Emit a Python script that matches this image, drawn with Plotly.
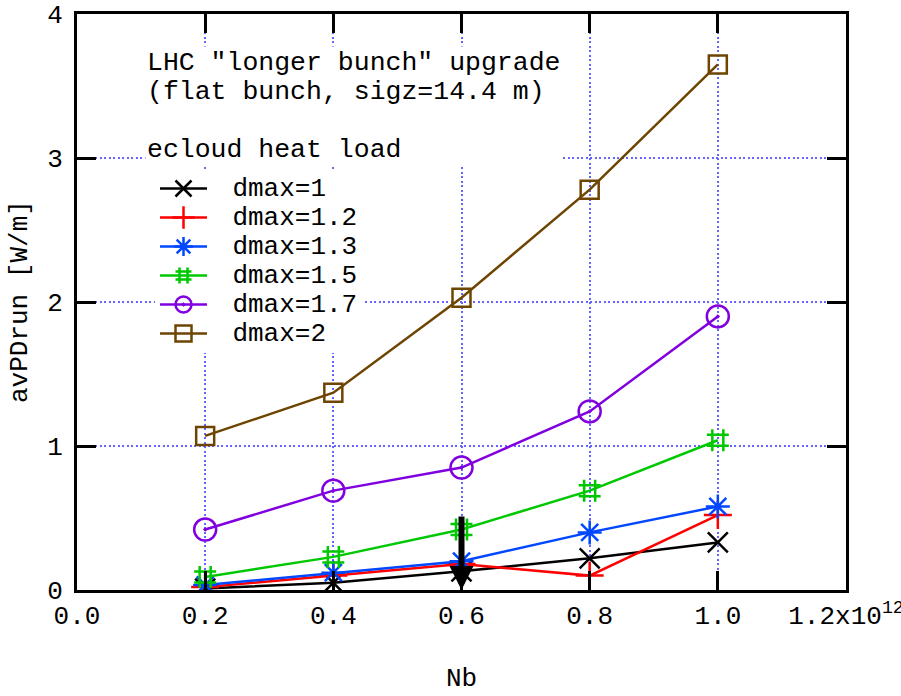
import plotly.graph_objects as go

# ---- data ----
nb = [0.2e12, 0.4e12, 0.6e12, 0.8e12, 1.0e12]
series_names = ["dmax=1", "dmax=1.2", "dmax=1.3", "dmax=1.5", "dmax=1.7", "dmax=2"]
d1_0 = [0.01, 0.05, 0.13, 0.22, 0.33]
d1_2 = [0.02, 0.10, 0.18, 0.10, 0.52]
d1_3 = [0.035, 0.12, 0.20, 0.40, 0.58]
d1_5 = [0.09, 0.23, 0.42, 0.69, 1.04]
d1_7 = [0.42, 0.69, 0.85, 1.24, 1.90]
d2_0 = [1.07, 1.37, 2.03, 2.78, 3.65]
series_values = [d1_0, d1_2, d1_3, d1_5, d1_7, d2_0]

x_tickvals = [0, 0.2e12, 0.4e12, 0.6e12, 0.8e12, 1.0e12, 1.2e12]
x_ticktext = ["0.0", "0.2", "0.4", "0.6", "0.8", "1.0", "1.2x10<sup>12</sup>"]
y_tickvals = [0, 1, 2, 3, 4]
y_ticktext = ["0", "1", "2", "3", "4"]

arrow_x = 0.6e12
arrow_y_from = 0.52
arrow_y_to = 0.0

# ---- style ----
colors = ["#000000", "#ff0000", "#0047ff", "#00c800", "#8000e0", "#6e4500"]
symbols = ["x-thin-open", "cross-thin-open", "asterisk-open", "hash-open",
           "circle-open-dot", "square-open"]
sizes = [20, 20, 20, 22, 22, 18]
FONT = "Liberation Mono"
GRID = "#6464ff"
PAD = '<span style="font-size:34px">\u00a0</span>'

fig = go.Figure()
for name, vals, c, s, sz in zip(series_names, series_values, colors, symbols, sizes):
    fig.add_trace(go.Scatter(
        x=nb, y=vals, mode="lines+markers",
        name=f'{PAD}<span style="font-size:26px">{name}</span>',
        line=dict(color=c, width=2.5),
        marker=dict(symbol=s, size=sz, color=c, line=dict(color=c, width=2.5)),
    ))

axis_common = dict(
    showline=True, linecolor="black", linewidth=3, mirror="ticks",
    ticks="inside", ticklen=19, tickwidth=3, tickcolor="black",
    showgrid=True, gridcolor=GRID, gridwidth=2, griddash="2px,2.5px",
    zeroline=False, tickfont=dict(family=FONT, size=26, color="black"),
    automargin=False,
)

fig.update_xaxes(range=[0, 1.2e12], tickmode="array", tickvals=x_tickvals,
                 ticktext=x_ticktext, ticklabelstandoff=0,
                 ticklabeloverflow="allow", **axis_common)
fig.update_yaxes(range=[0, 4], tickmode="array", tickvals=y_tickvals,
                 ticktext=y_ticktext, ticklabelstandoff=6, **axis_common)

fig.add_annotation(
    xref="paper", yref="paper", x=(145 - 77) / 769, y=(590 - 46) / 576,
    xanchor="left", yanchor="top", align="left", showarrow=False,
    text=('<span style="font-size:26.5px">LHC "longer bunch" upgrade</span><br>'
          '<span style="font-size:26.5px">(flat bunch, sigz=14.4 m)</span><br> <br>'
          '<span style="font-size:26.5px">ecloud heat load</span>'),
    font=dict(family=FONT, size=22.3, color="black"),
    bgcolor="white", borderpad=1,
)

fig.add_annotation(
    x=arrow_x, y=arrow_y_to, ax=arrow_x, ay=arrow_y_from, xref="x", yref="y",
    axref="x", ayref="y", text="", showarrow=True, arrowhead=2, arrowsize=0.8,
    arrowwidth=6, arrowcolor="black", standoff=0,
)

fig.add_annotation(xref="paper", yref="paper", x=0.5, y=-(679 - 590) / 576,
                   xanchor="center", yanchor="middle", showarrow=False, text="Nb",
                   font=dict(family=FONT, size=26, color="black"))
fig.add_annotation(xref="paper", yref="paper", x=(20 - 77) / 769, y=0.5,
                   xanchor="center", yanchor="middle", showarrow=False,
                   text="avPDrun [W/m]", textangle=-90,
                   font=dict(family=FONT, size=26, color="black"))

fig.update_layout(
    width=901, height=696,
    margin=dict(l=77, r=55, t=14, b=106, autoexpand=False),
    paper_bgcolor="white", plot_bgcolor="white",
    font=dict(family=FONT, size=26, color="black"),
    showlegend=True,
    legend=dict(x=(155 - 77) / 769, y=(590 - 169) / 576, xanchor="left", yanchor="top",
                bgcolor="white", borderwidth=0, font=dict(family=FONT, size=20, color="black"),
                itemwidth=47, tracegroupgap=0),
)

fig.write_html("out.html")
